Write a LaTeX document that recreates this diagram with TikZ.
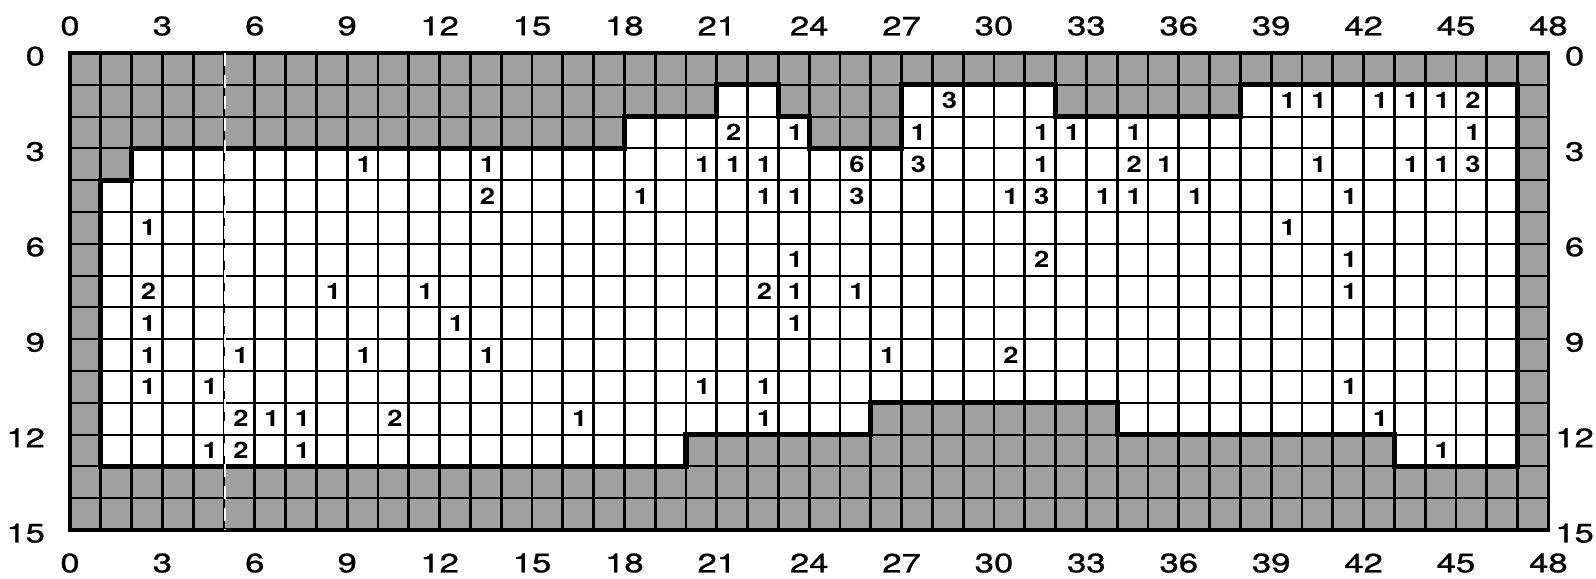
\documentclass[tikz,border=0pt]{standalone}
\usepackage{fontspec}
\setmainfont{TeX Gyre Heros}
\newfontfamily\axisfont[FakeBold=0.8]{TeX Gyre Heros}
\usepackage{graphicx}
\usepackage{tikz}
\definecolor{obstgray}{RGB}{160,160,160}

\newcommand{\widedigits}[2]{\scalebox{#1}[1]{#2}}

\tikzset{
  rowline/.style={line width=0.9pt},
  colline/.style={line width=1.3pt},
  wallline/.style={line width=2.4pt, line join=miter},
  cellnum/.style={font=\fontsize{10.5}{11}\selectfont\bfseries, inner sep=0pt},
  axislabel/.style={font=\axisfont\fontsize{12.3}{13}\selectfont, inner sep=0pt},
}

\begin{document}
\begin{tikzpicture}[x=0.5cm, y=-0.5162cm]
  \useasboundingbox (-2.273,-1.667) rectangle (49.545,16.541);

  % Obstacle cells
  \fill[obstgray] (0,0) rectangle (48,15);
  \fill[white] (1,4) -- (2,4) -- (2,3) -- (18,3) -- (18,2) -- (21,2) -- (21,1) -- (23,1)
    -- (23,2) -- (24,2) -- (24,3) -- (27,3) -- (27,1) -- (32,1) -- (32,2) -- (38,2)
    -- (38,1) -- (47,1) -- (47,13) -- (43,13) -- (43,12) -- (34,12) -- (34,11) -- (26,11)
    -- (26,12) -- (20,12) -- (20,13) -- (1,13) -- cycle;

  % Grid
  \foreach \c in {0,...,48} \draw[colline] (\c,0) -- (\c,15);
  \foreach \r in {0,...,15} \draw[rowline] (0,\r) -- (48,\r);

  % Border of the free area
  \draw[wallline] (1,4) -- (2,4) -- (2,3) -- (18,3) -- (18,2) -- (21,2) -- (21,1) -- (23,1)
    -- (23,2) -- (24,2) -- (24,3) -- (27,3) -- (27,1) -- (32,1) -- (32,2) -- (38,2)
    -- (38,1) -- (47,1) -- (47,13) -- (43,13) -- (43,12) -- (34,12) -- (34,11) -- (26,11)
    -- (26,12) -- (20,12) -- (20,13) -- (1,13) -- cycle;
  \draw[line width=1.5pt] (0,0) rectangle (48,15);

  % Cell counts
  \foreach \c/\r/\v in {28/1/3, 39/1/1, 40/1/1, 42/1/1, 43/1/1, 44/1/1, 45/1/2,
      21/2/2, 23/2/1, 27/2/1, 31/2/1, 32/2/1, 34/2/1, 45/2/1,
      9/3/1, 13/3/1, 20/3/1, 21/3/1, 22/3/1, 25/3/6, 27/3/3, 31/3/1, 34/3/2, 35/3/1,
      40/3/1, 43/3/1, 44/3/1, 45/3/3,
      13/4/2, 18/4/1, 22/4/1, 23/4/1, 25/4/3, 30/4/1, 31/4/3, 33/4/1, 34/4/1, 36/4/1, 41/4/1,
      2/5/1, 39/5/1,
      23/6/1, 31/6/2, 41/6/1,
      2/7/2, 8/7/1, 11/7/1, 22/7/2, 23/7/1, 25/7/1, 41/7/1,
      2/8/1, 12/8/1, 23/8/1,
      2/9/1, 5/9/1, 9/9/1, 13/9/1, 26/9/1, 30/9/2,
      2/10/1, 4/10/1, 20/10/1, 22/10/1, 41/10/1,
      5/11/2, 6/11/1, 7/11/1, 10/11/2, 16/11/1, 22/11/1, 42/11/1,
      4/12/1, 5/12/2, 7/12/1, 44/12/1}
    \node[cellnum] (n-\c-\r) at (\c+0.55,\r+0.5) {\widedigits{1.2}{\v}};

  % Axis labels
  \foreach \c in {0,3,...,48} {
    \node[axislabel] (top-\c) at (\c,-0.85) {\widedigits{1.3}{\c}};
    \node[axislabel] (bot-\c) at (\c,16.04) {\widedigits{1.3}{\c}};
  }
  \foreach \r in {0,3,...,15} {
    \node[axislabel, anchor=east] (left-\r) at (-0.8,\r+0.1) {\widedigits{1.3}{\r}};
    \node[axislabel] (right-\r) at (48.85,\r+0.1) {\widedigits{1.3}{\r}};
  }

  % Scan streak
  \draw[white, line width=1.1pt, dash pattern=on 6pt off 4pt] (5.04,0) -- (5.04,15);
\end{tikzpicture}
\end{document}
